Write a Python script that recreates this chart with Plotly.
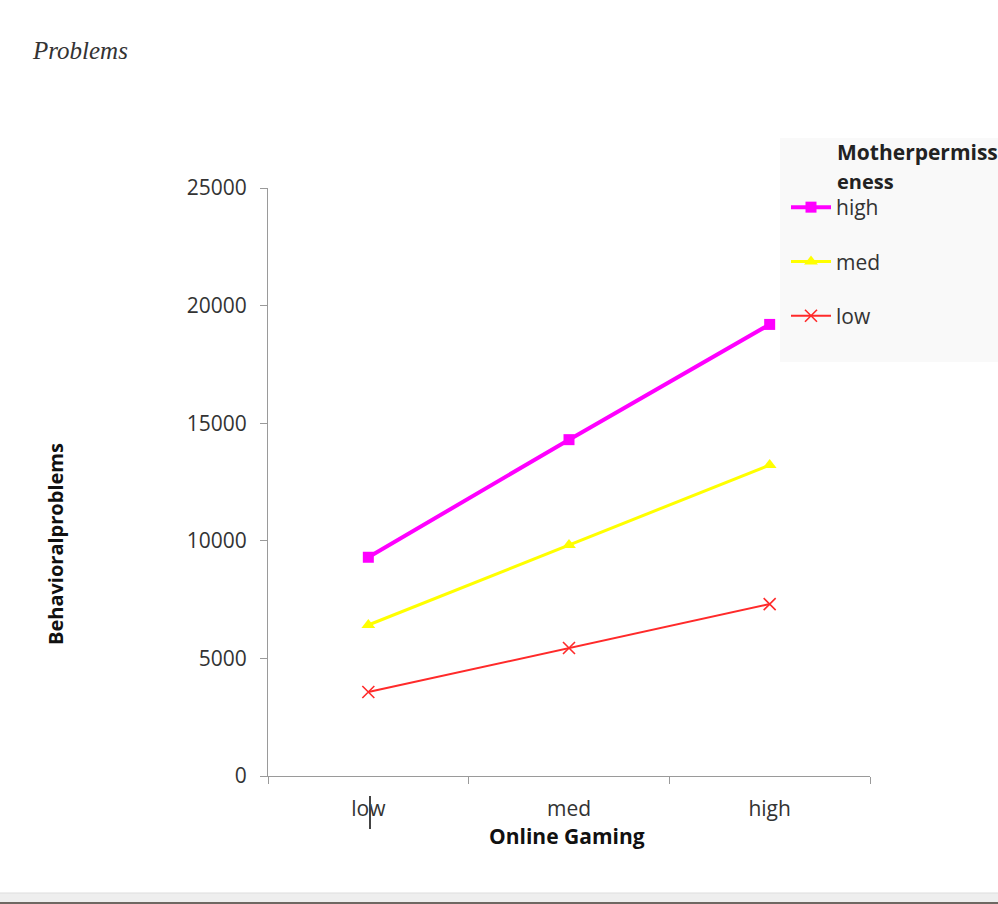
import plotly.graph_objects as go

# Online gaming level (x categories)
gaming_levels = ["low", "med", "high"]

# Behavioral problems by mother permissiveness group
perm_high = [9300, 14300, 19200]
perm_med = [6420, 9820, 13220]
perm_low = [3570, 5440, 7310]

y_ticks = [0, 5000, 10000, 15000, 20000, 25000]

FONT = "Open Sans, Lato, sans-serif"

# plot area in pixels
W, H = 998, 904
L, R, T, B = 268, 128, 188, 128
PW, PH = W - L - R, H - T - B


def px(x):
    return (x - L) / PW


def py(y):
    return (H - B - y) / PH


fig = go.Figure()

fig.add_trace(go.Scatter(
    x=gaming_levels, y=perm_high, name="high", mode="lines+markers",
    legendgroup="g1",
    line=dict(color="#ff00ff", width=4),
    marker=dict(symbol="square", size=11, color="#ff00ff"),
))
fig.add_trace(go.Scatter(
    x=gaming_levels, y=perm_med, name="med", mode="lines+markers",
    legendgroup="g2",
    line=dict(color="#ffff00", width=3),
    marker=dict(symbol="triangle-up", size=12, color="#ffff00"),
))
fig.add_trace(go.Scatter(
    x=gaming_levels, y=perm_low, name="low", mode="lines+markers",
    legendgroup="g3",
    line=dict(color="#ff2a2a", width=2),
    marker=dict(symbol="x-thin-open", size=12,
                line=dict(color="#ff2a2a", width=1.6)),
))

shapes = [
    # legend panel background
    dict(type="rect", xref="paper", yref="paper",
         x0=px(780), x1=px(1000), y0=py(362), y1=py(138),
         fillcolor="#f9f9f9", line=dict(width=0), layer="below"),
    # text cursor over the first category label
    dict(type="line", xref="paper", yref="paper",
         x0=px(370), x1=px(370), y0=py(796), y1=py(829),
         line=dict(color="#444444", width=2)),
    # window status strip at the bottom
    dict(type="rect", xref="paper", yref="paper",
         x0=px(-2), x1=px(1000), y0=py(903), y1=py(893),
         fillcolor="#eeeeee", line=dict(color="#dddddd", width=1)),
    dict(type="rect", xref="paper", yref="paper",
         x0=px(-2), x1=px(1000), y0=py(906), y1=py(902),
         fillcolor="#6e6862", line=dict(width=0)),
]

annotations = [
    dict(text="<i>Problems</i>", xref="paper", yref="paper",
         x=px(30), y=py(50), xanchor="left", yanchor="middle",
         showarrow=False,
         font=dict(family="Liberation Serif, serif", size=25, color="#333333")),
    dict(text="<b>Online Gaming</b>", xref="paper", yref="paper",
         x=px(567), y=py(836), xanchor="center", yanchor="middle",
         showarrow=False, font=dict(family=FONT, size=21, color="#111111")),
    dict(text="<b>Behavioralproblems</b>", xref="paper", yref="paper",
         x=px(55), y=py(544), xanchor="center", yanchor="middle",
         textangle=-90, showarrow=False,
         font=dict(family=FONT, size=20, color="#111111")),
    dict(text="<b>Motherpermiss</b>", xref="paper", yref="paper",
         x=px(835), y=py(152), xanchor="left", yanchor="middle",
         showarrow=False, font=dict(family=FONT, size=21, color="#222222")),
    dict(text="<b>eness</b>", xref="paper", yref="paper",
         x=px(835), y=py(181), xanchor="left", yanchor="middle",
         showarrow=False, font=dict(family=FONT, size=20, color="#222222")),
]

fig.update_layout(
    width=W, height=H,
    margin=dict(l=L, r=R, t=T, b=B, autoexpand=False),
    paper_bgcolor="white", plot_bgcolor="white",
    font=dict(family=FONT, size=21, color="#333333"),
    showlegend=True,
    legend=dict(
        x=px(786), y=py(187), xanchor="left", yanchor="top",
        bgcolor="rgba(0,0,0,0)", tracegroupgap=24,
        font=dict(family=FONT, size=21, color="#333333"),
        itemwidth=40,
    ),
    shapes=shapes,
    annotations=annotations,
)

fig.update_xaxes(
    type="category", showgrid=False, zeroline=False,
    showline=True, linecolor="#9a9a9a", linewidth=1,
    ticks="outside", tickson="boundaries", ticklen=7, tickcolor="#9a9a9a",
    tickfont=dict(family=FONT, size=21, color="#333333"),
    ticklabelstandoff=14,
    range=[-0.5, 2.5],
)
fig.update_yaxes(
    range=[0, 25000], tickvals=y_ticks, ticktext=[str(v) for v in y_ticks],
    showgrid=False, zeroline=False,
    showline=True, linecolor="#9a9a9a", linewidth=1,
    ticks="outside", ticklen=7, tickcolor="#9a9a9a",
    tickfont=dict(family=FONT, size=21, color="#333333"),
    ticklabelstandoff=9,
)

fig.write_html("out.html")
